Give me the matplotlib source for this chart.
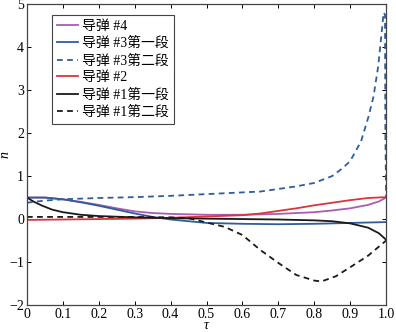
import matplotlib
matplotlib.use('Agg')
import matplotlib.pyplot as plt

# values (tau, n)
tau_4 = [0, 0.05, 0.1, 0.15, 0.2, 0.25, 0.3, 0.35, 0.4, 0.5, 0.6, 0.7, 0.8, 0.85, 0.9, 0.95, 0.98, 1.0]
n_4 = [0.5, 0.5, 0.46, 0.4, 0.33, 0.25, 0.18, 0.14, 0.12, 0.1, 0.1, 0.12, 0.16, 0.2, 0.25, 0.33, 0.41, 0.5]

tau_3a = [0, 0.05, 0.1, 0.15, 0.2, 0.25, 0.3, 0.35, 0.4, 0.45, 0.5, 0.6, 0.7, 0.8, 0.9, 1.0]
n_3a = [0.5, 0.5, 0.46, 0.39, 0.31, 0.22, 0.13, 0.05, -0.01, -0.05, -0.09, -0.11, -0.12, -0.11, -0.09, -0.07]

tau_3b = [0, 0.05, 0.1, 0.2, 0.3, 0.4, 0.5, 0.6, 0.65, 0.7, 0.75, 0.8, 0.85, 0.88, 0.9, 0.93,
          0.95, 0.965, 0.978, 0.989, 0.993, 0.997, 0.998, 1.0]
n_3b = [0.38, 0.43, 0.46, 0.49, 0.51, 0.54, 0.58, 0.62, 0.64, 0.7, 0.76, 0.84, 1.0, 1.19, 1.35, 1.8,
        2.35, 2.85, 3.55, 4.45, 4.8, 4.75, 2.0, 0.5]

tau_2 = [0, 0.1, 0.2, 0.3, 0.4, 0.5, 0.6, 0.65, 0.7, 0.75, 0.8, 0.85, 0.9, 0.95, 1.0]
n_2 = [-0.02, -0.01, 0.0, 0.01, 0.03, 0.06, 0.09, 0.13, 0.19, 0.25, 0.32, 0.38, 0.44, 0.49, 0.51]

tau_1a = [0, 0.02, 0.04, 0.07, 0.1, 0.15, 0.2, 0.3, 0.4, 0.5, 0.6, 0.7, 0.8, 0.85, 0.9, 0.95, 0.98, 1.0]
n_1a = [0.5, 0.4, 0.32, 0.22, 0.16, 0.1, 0.07, 0.04, 0.02, 0.01, 0.0, -0.01, -0.03, -0.05, -0.1, -0.2, -0.33, -0.48]

tau_1b = [0, 0.1, 0.2, 0.3, 0.4, 0.45, 0.5, 0.55, 0.6, 0.65, 0.7, 0.75, 0.8, 0.82, 0.86, 0.9, 0.95, 1.0]
n_1b = [0.05, 0.05, 0.05, 0.05, 0.04, 0.02, -0.08, -0.18, -0.37, -0.72, -1.02, -1.3, -1.43, -1.45, -1.33, -1.12, -0.85, -0.5]

labels = ['导弹 #4', '导弹 #3第一段', '导弹 #3第二段', '导弹 #2', '导弹 #1第一段', '导弹 #1第二段']

plt.rcParams['font.family'] = ['Liberation Serif', 'Noto Sans CJK SC']
plt.rcParams['font.size'] = 9

fig = plt.figure(figsize=(3.96, 3.32), dpi=100)
ax = fig.add_axes([0.068, 0.081, 0.907, 0.907])

dash = (0, (3.2, 2.4))
ax.plot(tau_4, n_4, color='#a75db3', lw=1.3, label=labels[0])
ax.plot(tau_3a, n_3a, color='#2f5d9c', lw=1.3, label=labels[1])
ax.plot(tau_3b, n_3b, color='#2f5d9c', lw=1.3, linestyle=dash, label=labels[2])
ax.plot(tau_2, n_2, color='#d8363b', lw=1.3, label=labels[3])
ax.plot(tau_1a, n_1a, color='#1a1a1a', lw=1.3, label=labels[4])
ax.plot(tau_1b, n_1b, color='#1a1a1a', lw=1.3, linestyle=dash, label=labels[5])

ax.set_xlim(0, 1.0)
ax.set_ylim(-2, 5)
ax.set_xticks([0, 0.1, 0.2, 0.3, 0.4, 0.5, 0.6, 0.7, 0.8, 0.9, 1.0])
ax.set_xticklabels(['0', '0.1', '0.2', '0.3', '0.4', '0.5', '0.6', '0.7', '0.8', '0.9', '1.0'])
ax.set_yticks([-2, -1, 0, 1, 2, 3, 4, 5])
ax.tick_params(direction='in', top=True, right=True, length=3, width=0.7, labelsize=10, pad=2)
for s in ax.spines.values():
    s.set_color('#444444')
    s.set_linewidth(0.9)

ax.set_xlabel('τ', style='italic', fontsize=10, labelpad=-1)
ax.set_ylabel('n', style='italic', fontsize=10)
ax.yaxis.set_label_coords(-0.043, 0.5)

leg = ax.legend(loc='upper left', bbox_to_anchor=(0.07, 0.963), fontsize=10, handlelength=1.5,
                handletextpad=0.3, borderpad=0.35, labelspacing=0.28, borderaxespad=0,
                fancybox=False, edgecolor='#444444', framealpha=1)
leg.get_frame().set_linewidth(0.8)

fig.savefig('out.png', dpi=100)
